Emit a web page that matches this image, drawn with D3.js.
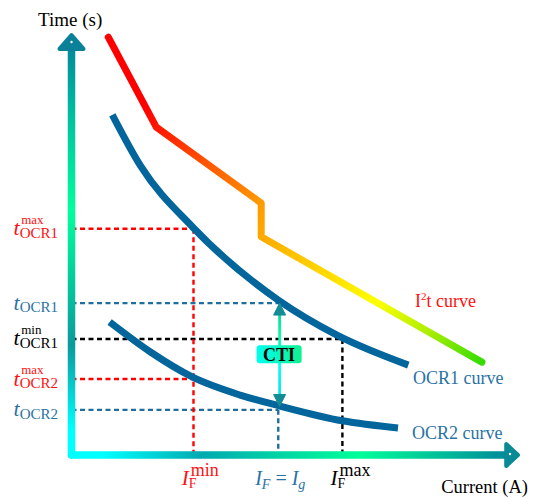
<!DOCTYPE html>
<html>
<head>
<meta charset="utf-8">
<script src="https://cdn.jsdelivr.net/npm/d3@7"></script>
<style>
  body { margin: 0; background: #fff; }
</style>
</head>
<body>
<svg id="chart" width="534" height="498" font-family="'Liberation Serif', 'Times New Roman', serif"></svg>
<script>
// schematic values, both axes in arbitrary units 0..100
var i2tCurrent = [8.2, 18.9, 42.3, 42.3, 91.5];
var i2tTime = [99.0, 77.7, 59.7, 51.7, 22.0];

var ocr1Current = [9.1, 15.4, 27.2, 46.1, 59.2, 75.1];
var ocr1Time = [80.6, 68.5, 53.8, 36.7, 28.4, 21.3];

var ocr2Current = [8.5, 17.6, 26.9, 37.6, 46.5, 60.4, 72.8];
var ocr2Time = [31.5, 24.4, 18.5, 14.2, 11.6, 8.1, 6.4];

// time levels on the y axis and how far their guides run
var timeLevels = [53.6, 36.0, 27.5, 18.0, 10.7];
var timeSubs = ["OCR1", "OCR1", "OCR1", "OCR2", "OCR2"];
var timeSups = ["max", "", "min", "max", ""];
var timeGuideTo = [27.2, 46.1, 60.4, 27.2, 46.1];

// current levels on the x axis and how high their guides run
var currentLevels = [27.2, 46.1, 60.4];
var currentSups = ["min", "", "max"];
var currentGuideTo = [53.6, 10.7, 27.5];

var ctiCurrent = 46.4;
var ctiTimes = [36.0, 11.5];

var red = "#ff0000", blue = "#1e6ea0", black = "#000";
var timeColors = [red, blue, black, red, blue];
var currentColors = [red, blue, black];

var svg = d3.select("#chart");
var defs = svg.append("defs");

var x = d3.scaleLinear().domain([0, 100]).range([71.5, 520]);
var y = d3.scaleLinear().domain([0, 100]).range([455, 33]);

function addGradient(id, x1, y1, x2, y2, stops) {
	var gr = defs.append("linearGradient").attr("id", id)
		.attr("gradientUnits", "userSpaceOnUse")
		.attr("x1", x1).attr("y1", y1).attr("x2", x2).attr("y2", y2);
	stops.forEach(function (s) {
		gr.append("stop").attr("offset", s[0]).attr("stop-color", s[1]);
	});
}

addGradient("gradY", 0, y(0), 0, y(100), [[0, "#00ffff"], [0.06, "#00ffff"], [0.26, "#0a9a9c"], [0.58, "#00ff9c"], [0.8, "#00c0a0"], [1, "#00809a"]]);
addGradient("gradX", x(0), 0, x(100), 0, [[0, "#00ffff"], [0.07, "#00ffff"], [0.29, "#00aab0"], [0.64, "#00ff99"], [0.97, "#008a9a"], [1, "#008a9a"]]);
addGradient("gradI2t", x(i2tCurrent[0]), y(i2tTime[0]), x(i2tCurrent[4]), y(i2tTime[4]),
	[[0, "#ff0000"], [0.15, "#ff0000"], [0.45, "#ff9900"], [0.55, "#ffbb00"], [0.76, "#ffff00"], [0.88, "#aaee00"], [1, "#33dd00"]]);
addGradient("gradCti", 0, y(ctiTimes[0]), 0, y(ctiTimes[1]), [[0, "#00c8a0"], [0.3, "#00ff99"], [0.6, "#00ffff"], [1, "#00e0e0"]]);
addGradient("gradCtiBox", 256, 0, 302, 0, [[0, "#00ffee"], [1, "#10f090"]]);

var g = svg.append("g");

// dashed guides
timeLevels.forEach(function (t, i) {
	g.append("line")
		.attr("x1", x(0)).attr("x2", x(timeGuideTo[i]))
		.attr("y1", y(t)).attr("y2", y(t))
		.attr("stroke", timeColors[i]).attr("stroke-width", 2.4)
		.attr("stroke-dasharray", "5,3.5");
});
currentLevels.forEach(function (c, i) {
	g.append("line")
		.attr("x1", x(c)).attr("x2", x(c))
		.attr("y1", y(currentGuideTo[i])).attr("y2", y(0))
		.attr("stroke", currentColors[i]).attr("stroke-width", 2.4)
		.attr("stroke-dasharray", "5,3.5");
});

// curves
var line = d3.line().x(function (d) { return x(d[0]); }).y(function (d) { return y(d[1]); });
var smooth = d3.line().x(function (d) { return x(d[0]); }).y(function (d) { return y(d[1]); }).curve(d3.curveMonotoneX);

g.append("path")
	.attr("d", line(d3.zip(i2tCurrent, i2tTime)))
	.attr("fill", "none").attr("stroke", "url(#gradI2t)")
	.attr("stroke-width", 7).attr("stroke-linecap", "round").attr("stroke-linejoin", "round");

[[ocr1Current, ocr1Time], [ocr2Current, ocr2Time]].forEach(function (c) {
	g.append("path")
		.attr("d", smooth(d3.zip(c[0], c[1])))
		.attr("fill", "none").attr("stroke", "#02659b")
		.attr("stroke-width", 7);
});

// CTI arrow
var cx = x(ctiCurrent), cTop = y(ctiTimes[0]), cBot = y(ctiTimes[1]);
g.append("line")
	.attr("x1", cx).attr("x2", cx).attr("y1", cTop + 8).attr("y2", cBot - 8)
	.attr("stroke", "url(#gradCti)").attr("stroke-width", 2.7);
g.append("path")
	.attr("d", "M" + cx + "," + cTop + "L" + (cx - 6) + "," + (cTop + 12) + "L" + (cx + 6) + "," + (cTop + 12) + "Z")
	.attr("fill", "#138c95").attr("stroke", "#138c95").attr("stroke-linejoin", "round");
g.append("path")
	.attr("d", "M" + cx + "," + cBot + "L" + (cx - 6) + "," + (cBot - 12) + "L" + (cx + 6) + "," + (cBot - 12) + "Z")
	.attr("fill", "#138c95").attr("stroke", "#138c95").attr("stroke-linejoin", "round");
var cMid = y(d3.mean(ctiTimes));
g.append("rect")
	.attr("x", cx - 23).attr("y", cMid - 9.5).attr("width", 45).attr("height", 18).attr("rx", 3)
	.attr("fill", "url(#gradCtiBox)");
g.append("text")
	.attr("x", cx - 0.5).attr("y", cMid + 6)
	.attr("text-anchor", "middle").attr("font-weight", "bold").attr("font-size", 18)
	.text("CTI");

// axes with arrow heads
g.append("line")
	.attr("x1", x(0)).attr("x2", x(0)).attr("y1", y(0)).attr("y2", y(96))
	.attr("stroke", "url(#gradY)").attr("stroke-width", 7.5).attr("stroke-linecap", "round");
g.append("line")
	.attr("x1", x(0)).attr("x2", x(96.7)).attr("y1", y(0)).attr("y2", y(0))
	.attr("stroke", "url(#gradX)").attr("stroke-width", 7.5).attr("stroke-linecap", "round");

var ax0 = x(0), ay0 = y(0);
g.append("path")
	.attr("d", "M" + ax0 + "," + (y(100) + 2) + "L" + (ax0 - 12) + "," + (y(96) - 1) + "L" + (ax0 + 12) + "," + (y(96) - 1) + "Z")
	.attr("fill", "#0a8099").attr("stroke", "#0a8099").attr("stroke-width", 4).attr("stroke-linejoin", "round");
g.append("path")
	.attr("d", "M" + (x(100) - 2) + "," + ay0 + "L" + (x(96.7) + 1) + "," + (ay0 - 11) + "L" + (x(96.7) + 1) + "," + (ay0 + 11) + "Z")
	.attr("fill", "#0a8a95").attr("stroke", "#0a8a95").attr("stroke-width", 4).attr("stroke-linejoin", "round");
g.append("circle").attr("cx", ax0).attr("cy", y(100) + 9).attr("r", 1.2).attr("fill", "#fff");
g.append("circle").attr("cx", x(100) - 10).attr("cy", ay0 - 1).attr("r", 1.2).attr("fill", "#fff");

// axis titles
g.append("text").attr("x", 38).attr("y", 26).attr("font-size", 19).text("Time (s)");
g.append("text").attr("x", 528).attr("y", 493).attr("text-anchor", "end").attr("font-size", 18.5).text("Current (A)");

// y-axis level labels
var labelColors = ["#ff1010", "#2a72a4", "#000", "#ff1010", "#2a72a4"];
timeLevels.forEach(function (t, i) {
	var yy = y(t);
	var sub = g.append("text")
		.attr("x", 58).attr("y", yy + 9)
		.attr("text-anchor", "end").attr("font-size", 15)
		.attr("fill", labelColors[i]).text(timeSubs[i]);
	var w = sub.node().getComputedTextLength();
	g.append("text")
		.attr("x", 58 - w).attr("y", yy + 6.5)
		.attr("text-anchor", "end").attr("font-size", 22).attr("font-style", "italic")
		.attr("fill", labelColors[i]).text("t");
	if (timeSups[i]) {
		g.append("text")
			.attr("x", 58 - w + 1.5).attr("y", yy - 5)
			.attr("font-size", 13).attr("fill", labelColors[i]).text(timeSups[i]);
	}
});

// x-axis level labels
var curLabelColors = ["#ff1010", "#2a72a4", "#000"];
currentLevels.forEach(function (c, i) {
	var xx = x(c);
	if (currentSups[i]) {
		var sub = g.append("text")
			.attr("x", xx + 3).attr("y", 488)
			.attr("text-anchor", "end").attr("font-size", 14)
			.attr("fill", curLabelColors[i]).text("F");
		var w = sub.node().getComputedTextLength();
		g.append("text")
			.attr("x", xx + 3 - w).attr("y", 485)
			.attr("text-anchor", "end").attr("font-size", 21).attr("font-style", "italic")
			.attr("fill", curLabelColors[i]).text("I");
		g.append("text")
			.attr("x", xx + 3 - w + 2).attr("y", 476)
			.attr("font-size", 18).attr("fill", curLabelColors[i]).text(currentSups[i]);
	} else {
		var tx = g.append("text")
			.attr("x", xx + 2).attr("y", 485)
			.attr("text-anchor", "middle").attr("font-size", 20)
			.attr("fill", curLabelColors[i]);
		tx.append("tspan").attr("font-style", "italic").text("I");
		tx.append("tspan").attr("font-style", "italic").attr("font-size", 14).attr("dy", 4).text("F");
		tx.append("tspan").attr("dy", -4).text(" = ");
		tx.append("tspan").attr("font-style", "italic").text("I");
		tx.append("tspan").attr("font-style", "italic").attr("font-size", 14).attr("dy", 4).text("g");
	}
});

// curve names
var i2tLabel = g.append("text").attr("x", 415).attr("y", 307).attr("font-size", 18).attr("fill", "#ff1010");
i2tLabel.append("tspan").text("I");
i2tLabel.append("tspan").attr("font-size", 11).attr("dy", -7).text("2");
i2tLabel.append("tspan").attr("dy", 7).text("t curve");
g.append("text").attr("x", 413).attr("y", 384).attr("font-size", 18).attr("fill", "#2a72a4").text("OCR1 curve");
g.append("text").attr("x", 412).attr("y", 439).attr("font-size", 18).attr("fill", "#2a72a4").text("OCR2 curve");
</script>
</body>
</html>
